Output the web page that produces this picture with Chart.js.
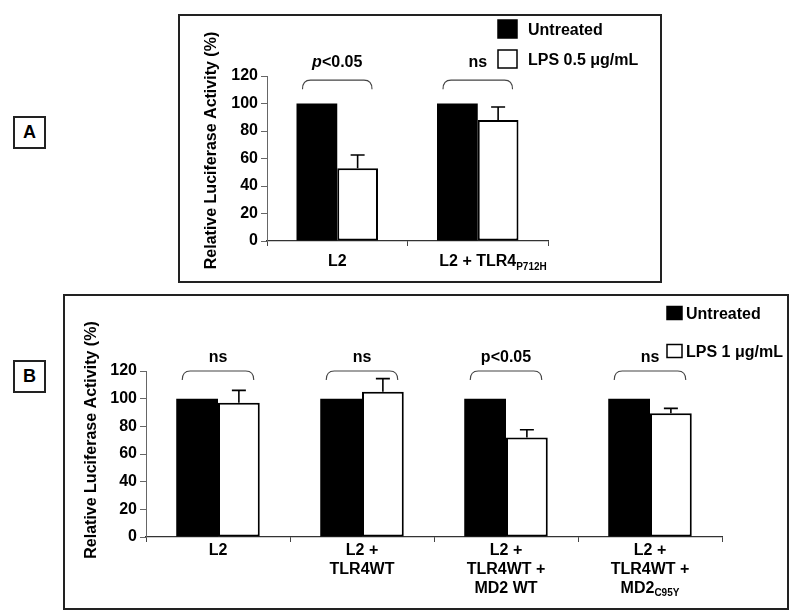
<!DOCTYPE html>
<html>
<head>
<meta charset="utf-8">
<script src="https://cdn.jsdelivr.net/npm/chart.js@4.4.0/dist/chart.umd.min.js"></script>
<style>
  body { margin: 0; background: #fff; width: 800px; height: 613px; position: relative; overflow: hidden;
         font-family: "Liberation Sans", Arial, sans-serif; }
  .panel { position: absolute; border: 2px solid #222; box-sizing: border-box; }
  .tag { position: absolute; width: 33px; height: 33px; border: 2px solid #222; box-sizing: border-box;
         font-weight: bold; font-size: 18px; display: flex; align-items: center; justify-content: center; }
  canvas { display: block; }
</style>
</head>
<body>
<div class="tag" style="left:13px;top:116px">A</div>
<div class="tag" style="left:13px;top:360px">B</div>
<div class="panel" style="left:178px;top:14px;width:484px;height:269px"><canvas id="chartA" width="480" height="265"></canvas></div>
<div class="panel" style="left:63px;top:294px;width:726px;height:316px"><canvas id="chartB" width="722" height="312"></canvas></div>
<script>
// Panel A data
const labelsA = [["L2"], ["L2 + TLR4~P712H"]]
const untreatedA = [100, 100]
const lpsA = [53, 88]
const lpsErrA = [9.5, 9.5]
const statsA = ["p<0.05", "ns"]

// Panel B data
const labelsB = [
  ["L2"],
  ["L2 +", "TLR4WT"],
  ["L2 +", "TLR4WT +", "MD2 WT"],
  ["L2 +", "TLR4WT +", "MD2~C95Y"],
]
const untreatedB = [100, 100, 100, 100]
const lpsB = [97, 105, 72, 89.5]
const lpsErrB = [9, 9.5, 5.5, 3.5]
const statsB = ["ns", "ns", "p<0.05", "ns"]

const yTicks = { min: 0, max: 120, step: 20 }
const yTitle = "Relative Luciferase Activity (%)"
const FONT = '"Liberation Sans", Arial, sans-serif'

// error bars, brackets, stats, custom x labels, y title and legend
const annotations = {
  id: "annotations",
  afterDatasetsDraw(chart, args, o) {
    const ctx = chart.ctx
    const y = chart.scales.y
    const m1 = chart.getDatasetMeta(1)
    const vals = chart.data.datasets[1].data
    ctx.save()
    ctx.strokeStyle = "#000"
    ctx.lineWidth = 1.6
    o.errors.forEach((e, i) => {
      const bar = m1.data[i]
      const top = y.getPixelForValue(vals[i] + e)
      ctx.beginPath()
      ctx.moveTo(bar.x, bar.y)
      ctx.lineTo(bar.x, top)
      ctx.moveTo(bar.x - 7, top)
      ctx.lineTo(bar.x + 7, top)
      ctx.stroke()
    })
    ctx.restore()
  },
  afterDraw(chart, args, o) {
    const ctx = chart.ctx
    const x = chart.scales.x, y = chart.scales.y
    const m0 = chart.getDatasetMeta(0), m1 = chart.getDatasetMeta(1)
    ctx.save()

    // brackets + stat text
    o.stats.forEach((s, i) => {
      const b0 = m0.data[i], b1 = m1.data[i]
      const x0 = b0.x - b0.width / 2 + 6
      const x1 = b1.x + b1.width / 2 - 6
      const yt = y.getPixelForValue(o.bracketAt)
      const yb = yt + 9
      const r = 8
      ctx.strokeStyle = "#444"
      ctx.lineWidth = 1.1
      ctx.beginPath()
      ctx.moveTo(x0, yb)
      ctx.quadraticCurveTo(x0, yt, x0 + r, yt)
      ctx.lineTo(x1 - r, yt)
      ctx.quadraticCurveTo(x1, yt, x1, yb)
      ctx.stroke()

      const cx = (b0.x + b1.x) / 2
      const ty = y.getPixelForValue(o.statAt)
      ctx.fillStyle = "#000"
      ctx.textBaseline = "middle"
      ctx.textAlign = "left"
      if (o.italicP && s[0] === "p") {
        ctx.font = "italic bold 16px " + FONT
        const pw = ctx.measureText("p").width
        ctx.font = "bold 16px " + FONT
        const rw = ctx.measureText(s.slice(1)).width
        const sx = cx - (pw + rw) / 2
        ctx.font = "italic bold 16px " + FONT
        ctx.fillText("p", sx, ty)
        ctx.font = "bold 16px " + FONT
        ctx.fillText(s.slice(1), sx + pw, ty)
      } else {
        ctx.font = "bold 16px " + FONT
        ctx.textAlign = "center"
        ctx.fillText(s, cx, ty)
      }
    })

    // x labels with subscripts
    ctx.fillStyle = "#000"
    ctx.textBaseline = "middle"
    ctx.textAlign = "left"
    chart.data.labels.forEach((lines, i) => {
      const cx = x.getPixelForValue(i)
      lines.forEach((line, j) => {
        const [main, sub] = line.split("~")
        const ly = x.top + o.labelOffset + j * 19
        ctx.font = "bold 16px " + FONT
        const mw = ctx.measureText(main).width
        ctx.font = "bold 10px " + FONT
        const sw = sub ? ctx.measureText(sub).width : 0
        const sx = o.centerMain ? cx - mw / 2 : cx - (mw + sw) / 2
        ctx.font = "bold 16px " + FONT
        ctx.fillText(main, sx, ly)
        if (sub) {
          ctx.font = "bold 10px " + FONT
          ctx.fillText(sub, sx + mw, ly + 5)
        }
      })
    })

    // rotated y title
    ctx.save()
    ctx.translate(o.titleX, (y.top + y.bottom) / 2 - o.titleShift)
    ctx.rotate(-Math.PI / 2)
    ctx.font = "bold 16px " + FONT
    ctx.textAlign = "center"
    ctx.textBaseline = "middle"
    ctx.fillStyle = "#000"
    ctx.fillText(yTitle, 0, 0)
    ctx.restore()

    // legend
    const L = o.legend
    chart.data.datasets.forEach((ds, i) => {
      const cy = L.y + i * L.gap
      ctx.fillStyle = ds.backgroundColor
      ctx.fillRect(L.x, cy - L.h / 2, L.w, L.h)
      ctx.strokeStyle = "#000"
      ctx.lineWidth = 1.5
      ctx.strokeRect(L.x, cy - L.h / 2, L.w, L.h)
      ctx.fillStyle = "#000"
      ctx.font = "bold 16px " + FONT
      ctx.textBaseline = "middle"
      ctx.textAlign = "left"
      ctx.fillText(ds.label, L.x + L.w + L.textGap, cy + 2)
    })
    ctx.restore()
  },
}

function makeChart(id, labels, untreated, lps, lpsLabel, cfg) {
  return new Chart(document.getElementById(id), {
    type: "bar",
    data: {
      labels: labels,
      datasets: [
        {
          label: "Untreated",
          data: untreated,
          backgroundColor: "#000",
          borderColor: "#000",
          borderWidth: 0,
        },
        {
          label: lpsLabel,
          data: lps,
          backgroundColor: "#fff",
          borderColor: "#000",
          borderWidth: 2,
          borderSkipped: false,
        },
      ],
    },
    options: {
      responsive: false,
      animation: false,
      devicePixelRatio: 1,
      categoryPercentage: 0.58,
      barPercentage: 1,
      layout: { padding: { left: 0, right: cfg.padRight, top: cfg.padTop, bottom: 0 } },
      plugins: {
        legend: { display: false },
        tooltip: { enabled: false },
        annotations: cfg.ann,
      },
      scales: {
        x: {
          grid: { drawOnChartArea: false, tickLength: 5, color: "#444", offset: true },
          border: { color: "#333", width: 1.2 },
          ticks: { display: false },
          afterFit: s => { s.height = cfg.xHeight },
        },
        y: {
          min: yTicks.min,
          max: yTicks.max,
          ticks: {
            stepSize: yTicks.step,
            padding: 3,
            color: "#000",
            font: { family: FONT, size: 16, weight: "bold" },
          },
          grid: { drawOnChartArea: false, tickLength: 6, color: "#666" },
          border: { color: "#666", width: 1 },
          afterFit: s => { s.width = cfg.yWidth },
        },
      },
    },
    plugins: [annotations],
  })
}

makeChart("chartA", labelsA, untreatedA, lpsA, "LPS 0.5 μg/mL", {
  padRight: 112, padTop: 60, xHeight: 40, yWidth: 87,
  ann: {
    errors: lpsErrA, stats: statsA, italicP: true, bracketAt: 117, statAt: 130,
    labelOffset: 21, centerMain: true, titleX: 32, titleShift: 8,
    legend: { x: 318, y: 13, gap: 30, w: 19, h: 18, textGap: 11 },
  },
})

makeChart("chartB", labelsB, untreatedB, lpsB, "LPS 1 μg/mL", {
  padRight: 65, padTop: 75, xHeight: 71, yWidth: 81,
  ann: {
    errors: lpsErrB, stats: statsB, italicP: false, bracketAt: 120, statAt: 130,
    labelOffset: 13.5, centerMain: false, titleX: 27, titleShift: 14,
    legend: { x: 602, y: 17, gap: 38, w: 15, h: 13, textGap: 4 },
  },
})
</script>
</body>
</html>
